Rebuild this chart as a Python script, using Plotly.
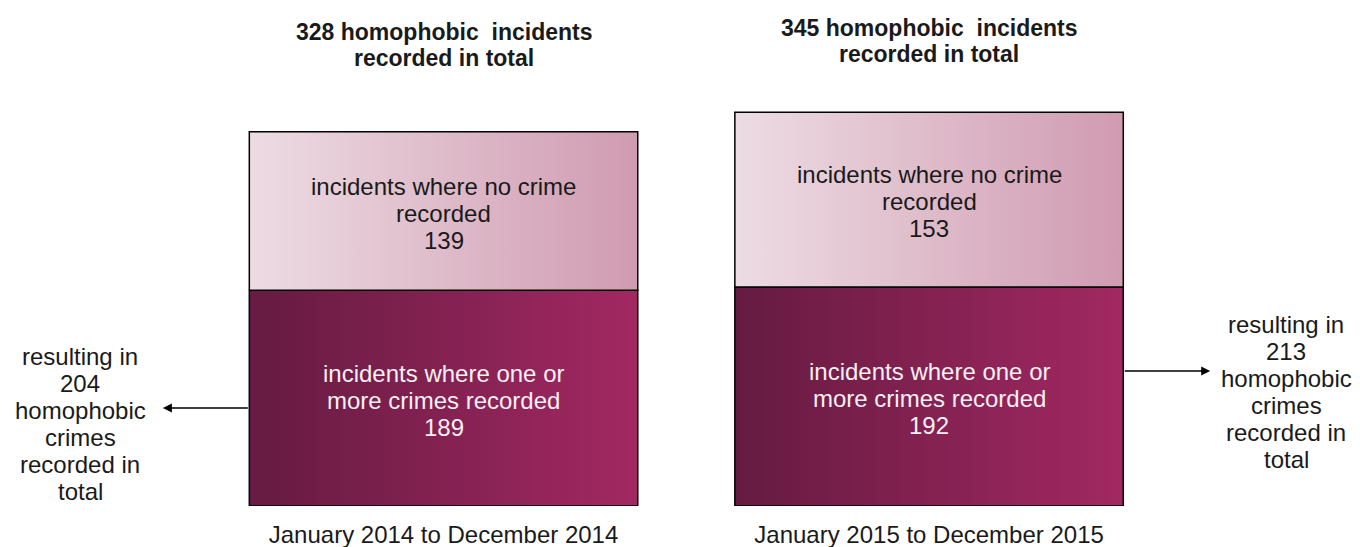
import plotly.graph_objects as go

# ---- data ----
periods = ["January 2014 to December 2014", "January 2015 to December 2015"]
crime_incidents = [189, 192]        # incidents where one or more crimes recorded
no_crime_incidents = [139, 153]     # incidents where no crime recorded
total_incidents = [328, 345]
crimes_recorded = [204, 213]

FONT = "Liberation Sans, Arial, sans-serif"
BAR_W = 0.8
LIGHT = [[0, "#eddce3"], [1, "#d09bb1"]]
DARK = [[0, "#651b41"], [1, "#a22862"]]
TXT = "#1a1a1a"

fig = go.Figure()


def lines_block(x, y, lines, size, spacing, color, xref="x", yref="y", bold=False, yoff=0):
    n = len(lines)
    for k, line in enumerate(lines):
        t = f"<b>{line}</b>" if bold else line
        fig.add_annotation(x=x, y=y, xref=xref, yref=yref, xanchor="center", yanchor="middle",
                           yshift=((n - 1) / 2 - k) * spacing + yoff, showarrow=False, text=t,
                           font=dict(family=FONT, size=size, color=color))


for i in range(len(periods)):
    lo = crime_incidents[i]
    hi = lo + no_crime_incidents[i]
    x0, x1 = i - BAR_W / 2, i + BAR_W / 2
    fig.add_trace(go.Scatter(
        x=[x0, x1, x1, x0, x0], y=[0, 0, lo, lo, 0], mode="lines", fill="toself",
        line=dict(color="black", width=1.5),
        fillgradient=dict(type="horizontal", colorscale=DARK),
        hoverinfo="skip", showlegend=False))
    fig.add_trace(go.Scatter(
        x=[x0, x1, x1, x0, x0], y=[lo, lo, hi, hi, lo], mode="lines", fill="toself",
        line=dict(color="black", width=1.5),
        fillgradient=dict(type="horizontal", colorscale=LIGHT),
        hoverinfo="skip", showlegend=False))
    lines_block(i, lo / 2, ["incidents where one or", "more crimes recorded", str(crime_incidents[i])],
                24, 27, "#f7eff3", yoff=-2)
    lines_block(i, lo + no_crime_incidents[i] / 2,
                ["incidents where no crime", "recorded", str(no_crime_incidents[i])],
                24, 27, TXT, yoff=-2)

# titles above bars (paper coords; plot area spans 498 px)
title_y = [0.9257, 0.9347]
for i in range(len(periods)):
    lines_block(i, title_y[i], [f"{total_incidents[i]} homophobic&nbsp; incidents", "recorded in total"],
                23, 26, TXT, yref="paper", bold=True)

# side notes with arrows
side_x = [72 / 1360, 1278 / 1360]
side_y = [0.1637, 0.2289]
arrow_head_x = [-0.578, 1.579]
arrow_y = [85.9, 118.3]
for i in range(len(periods)):
    lines_block(side_x[i], side_y[i],
                ["resulting in", str(crimes_recorded[i]), "homophobic", "crimes", "recorded in", "total"],
                24, 27, TXT, xref="paper", yref="paper")
    edge = i - BAR_W / 2 if i == 0 else i + BAR_W / 2
    fig.add_annotation(x=arrow_head_x[i], y=arrow_y[i], xref="x", yref="y",
                       ax=edge, ay=arrow_y[i], axref="x", ayref="y",
                       text="", showarrow=True, arrowhead=2, arrowsize=1.2,
                       arrowwidth=1.5, arrowcolor="black", standoff=0)

fig.update_xaxes(range=[-0.897, 1.904], tickvals=list(range(len(periods))), ticktext=periods,
                 showgrid=False, zeroline=False, showline=False, ticks="", ticklabelstandoff=12,
                 tickfont=dict(family=FONT, size=24, color=TXT))
fig.update_yaxes(range=[0, 436.46], visible=False, showgrid=False, zeroline=False)
fig.update_layout(width=1360, height=547, margin=dict(l=0, r=0, t=0, b=49),
                  plot_bgcolor="white", paper_bgcolor="white", font=dict(family=FONT))
fig.write_html("out.html")
